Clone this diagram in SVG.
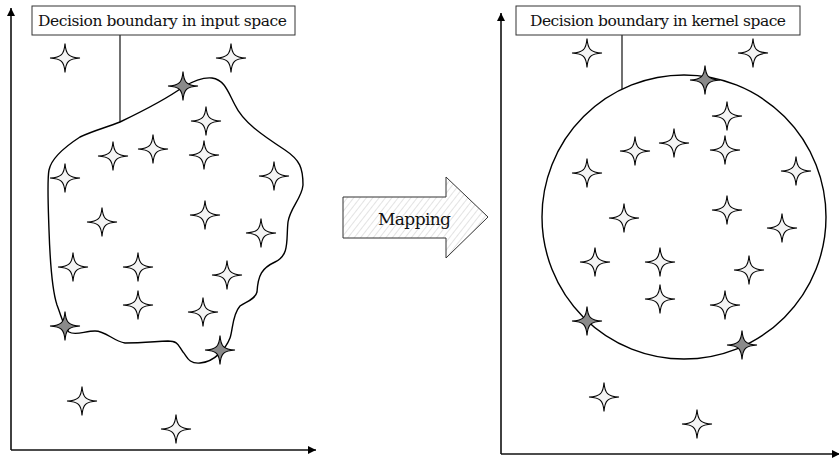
<svg xmlns="http://www.w3.org/2000/svg" width="839" height="459" viewBox="0 0 839 459">
<style>
.lbl{fill:#fff;stroke:#333;stroke-width:1}
.txt{font-family:"DejaVu Serif","Liberation Serif",serif;fill:#111}
.ax{stroke:#111;stroke-width:1.6;fill:none}
.lead{stroke:#111;stroke-width:1.2;fill:none}
.bd{stroke:#000;stroke-width:1.4;fill:none}
.sw{fill:#f4f4f4;stroke:#000;stroke-width:1.1}
.sg{fill:#8a8a8a;stroke:#000;stroke-width:1.1}
</style>
<defs>
<marker id="ah" viewBox="0 0 10 10" refX="10" refY="5" markerWidth="13" markerHeight="8" markerUnits="userSpaceOnUse" orient="auto">
<path d="M0,0 L10,5 L0,10 Z" fill="#000"/>
</marker>
<path id="star" d="M0,-14.5 C0.8,-3.6 3.6,-0.8 15,0 C3.6,0.8 0.8,3.6 0,14.5 C-0.8,3.6 -3.6,0.8 -15,0 C-3.6,-0.8 -0.8,-3.6 0,-14.5 Z"/>
<pattern id="hatch" width="5" height="5" patternUnits="userSpaceOnUse" patternTransform="rotate(38)">
<rect width="5" height="5" fill="#fff"/>
<line x1="0" y1="0" x2="0" y2="5" stroke="#c8c8c8" stroke-width="1"/>
</pattern>
</defs>

<g id="connectors">
<line class="ax" x1="11" y1="450" x2="11" y2="8" marker-end="url(#ah)"/>
<line class="ax" x1="11" y1="450" x2="316" y2="450" marker-end="url(#ah)"/>
<line class="ax" x1="501" y1="454" x2="501" y2="13" marker-end="url(#ah)"/>
<line class="ax" x1="501" y1="454" x2="840" y2="454" marker-end="url(#ah)"/>
<line class="lead" x1="120" y1="35" x2="120" y2="122"/>
<line class="lead" x1="622" y1="35" x2="622" y2="89"/>
</g>

<g id="boundary-input">
<path class="bd" d="M120,122 C145,110 165,100 183,87 C195,80 203,77 212,78 C225,80 228,92 235,105 C243,122 262,135 285,150 C300,160 303,168 303,185 C302,198 290,208 288,222 C286,240 290,255 275,262 C262,268 258,275 257,292 C255,300 245,302 240,306 C232,315 233,330 230,338 C226,348 215,362 200,363 C188,364 187,356 183,352 C178,345 178,341 168,341 C150,342 140,343 125,343 C113,341 106,331 95,331 C85,331 75,336 69,332 C64,328 62,318 57,305 C52,290 50,260 49,230 C48,200 47,180 49,170 C51,160 60,150 80,137 C95,130 105,128 120,122 Z"/>
</g>

<g id="boundary-kernel">
<circle class="bd" cx="684" cy="217" r="142"/>
</g>

<g id="label-input">
<rect class="lbl" x="32" y="6" width="263" height="29"/>
<text class="txt" x="38" y="26" font-size="15.5" textLength="249">Decision boundary in input space</text>
</g>

<g id="label-kernel">
<rect class="lbl" x="516" y="6" width="284" height="29"/>
<text class="txt" x="530" y="26" font-size="15.5" textLength="256">Decision boundary in kernel space</text>
</g>

<g id="mapping">
<path d="M343,197 L446,197 L446,177 L488,217 L446,258 L446,238 L343,238 Z" fill="url(#hatch)" stroke="#333" stroke-width="1"/>
<text class="txt" x="378" y="225" font-size="17" textLength="73">Mapping</text>
</g>

<g id="stars-input">
<use href="#star" class="sw" x="65" y="58"/>
<use href="#star" class="sw" x="231" y="58"/>
<use href="#star" class="sg" x="183" y="86"/>
<use href="#star" class="sw" x="206" y="121"/>
<use href="#star" class="sw" x="113" y="156"/>
<use href="#star" class="sw" x="153" y="149"/>
<use href="#star" class="sw" x="204" y="155"/>
<use href="#star" class="sw" x="65" y="178"/>
<use href="#star" class="sw" x="274" y="176"/>
<use href="#star" class="sw" x="102" y="222"/>
<use href="#star" class="sw" x="205" y="215"/>
<use href="#star" class="sw" x="261" y="233"/>
<use href="#star" class="sw" x="73" y="267"/>
<use href="#star" class="sw" x="138" y="267"/>
<use href="#star" class="sw" x="227" y="275"/>
<use href="#star" class="sw" x="138" y="305"/>
<use href="#star" class="sw" x="203" y="312"/>
<use href="#star" class="sg" x="65" y="326"/>
<use href="#star" class="sg" x="220" y="350"/>
<use href="#star" class="sw" x="82" y="401"/>
<use href="#star" class="sw" x="176" y="429"/>
</g>

<g id="stars-kernel">
<use href="#star" class="sw" x="587" y="53"/>
<use href="#star" class="sw" x="753" y="53"/>
<use href="#star" class="sg" x="705" y="80"/>
<use href="#star" class="sw" x="727" y="116"/>
<use href="#star" class="sw" x="635" y="151"/>
<use href="#star" class="sw" x="674" y="143"/>
<use href="#star" class="sw" x="725" y="150"/>
<use href="#star" class="sw" x="587" y="173"/>
<use href="#star" class="sw" x="796" y="171"/>
<use href="#star" class="sw" x="624" y="218"/>
<use href="#star" class="sw" x="727" y="210"/>
<use href="#star" class="sw" x="782" y="228"/>
<use href="#star" class="sw" x="595" y="262"/>
<use href="#star" class="sw" x="660" y="262"/>
<use href="#star" class="sw" x="749" y="270"/>
<use href="#star" class="sw" x="660" y="299"/>
<use href="#star" class="sw" x="725" y="305"/>
<use href="#star" class="sg" x="587" y="321"/>
<use href="#star" class="sg" x="742" y="345"/>
<use href="#star" class="sw" x="604" y="397"/>
<use href="#star" class="sw" x="697" y="424"/>
</g>
</svg>
